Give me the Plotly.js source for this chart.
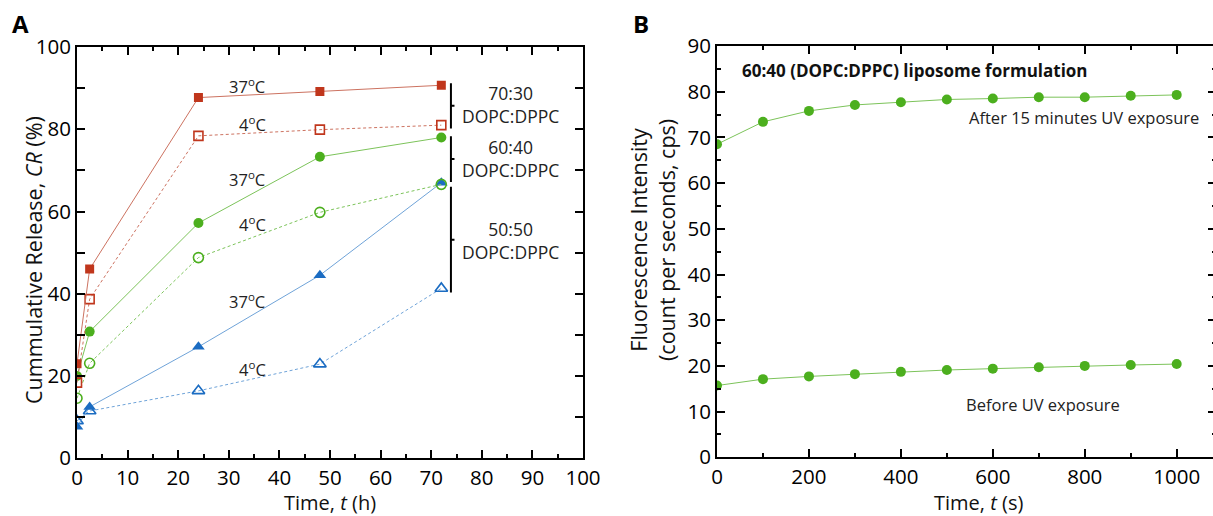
<!DOCTYPE html>
<html>
<head>
<meta charset="utf-8">
<script src="https://cdn.plot.ly/plotly-3.0.1.min.js"></script>
<style>
html,body{margin:0;padding:0;overflow:hidden;background:#fff;}
#chart{width:1226px;height:516px;}
</style>
</head>
<body>
<div id="chart"></div>
<script>
// ---------- Panel A data ----------
const timeA = [0, 2.5, 24, 48, 72];
const cr7030_37 = [23.0, 46.0, 87.7, 89.2, 90.7];
const cr7030_4  = [18.4, 38.7, 78.4, 79.9, 81.0];
const cr6040_37 = [20.0, 30.8, 57.2, 73.3, 78.0];
const cr6040_4  = [14.6, 23.1, 48.8, 59.8, 66.6];
const cr5050_37 = [7.7, 12.5, 27.1, 44.5, 67.0];
const cr5050_4  = [9.1, 11.5, 16.4, 22.9, 41.3];

// ---------- Panel B data ----------
const timeB = [0, 100, 200, 300, 400, 500, 600, 700, 800, 900, 1000];
const afterUV  = [68.5, 73.4, 75.8, 77.1, 77.7, 78.3, 78.5, 78.8, 78.8, 79.1, 79.3];
const beforeUV = [15.7, 17.1, 17.7, 18.2, 18.7, 19.1, 19.4, 19.7, 20.0, 20.2, 20.4];

// ---------- labels ----------
const ratioLabels = ['70:30<br>DOPC:DPPC', '60:40<br>DOPC:DPPC', '50:50<br>DOPC:DPPC'];
const tempLabels = ['37<sup>o</sup>C', '4<sup>o</sup>C'];

const RED = '#c0361c', RED_L = '#cc7260';
const GRN = '#4caf1e', GRN_L = '#7cc35a';
const BLU = '#1b6cc2', BLU_L = '#6fa3d8';
const FONT = 'Open Sans, Liberation Sans, sans-serif';

function tr(x, y, col, lcol, sym, dash, size, xa, ya) {
  return {
    x: x, y: y, type: 'scatter', mode: 'lines+markers',
    xaxis: xa || 'x', yaxis: ya || 'y',
    line: {color: lcol, width: 1, dash: dash},
    marker: {symbol: sym, size: size, color: col, line: {color: col, width: 1.6}},
    showlegend: false, hoverinfo: 'x+y'
  };
}

const DASH = '3px,2.5px';
const data = [
  tr(timeA, cr5050_4, BLU, BLU_L, 'triangle-up-open', DASH, 11),
  tr(timeA, cr5050_37, BLU, BLU_L, 'triangle-up', 'solid', 11),
  tr(timeA, cr6040_4, GRN, GRN_L, 'circle-open', DASH, 10),
  tr(timeA, cr6040_37, GRN, GRN_L, 'circle', 'solid', 10),
  tr(timeA, cr7030_4, RED, RED_L, 'square-open', DASH, 9),
  tr(timeA, cr7030_37, RED, RED_L, 'square', 'solid', 9),
  tr(timeB, beforeUV, GRN, GRN_L, 'circle', 'solid', 10, 'x2', 'y2'),
  tr(timeB, afterUV, GRN, GRN_L, 'circle', 'solid', 10, 'x2', 'y2')
];
// filled markers: no outline needed
[1, 3, 5, 6, 7].forEach(function (i) { data[i].marker.line.width = 0; });

const W = 1226;
const axBase = {
  showline: true, linecolor: '#000', linewidth: 2, mirror: 'ticks',
  ticks: 'inside', ticklen: 8, tickwidth: 2, tickcolor: '#000',
  showgrid: false, zeroline: false,
  tickfont: {family: FONT, size: 20.5, color: '#000'},
  fixedrange: true
};
const minorT = function (d, len) {
  return {dtick: d, ticks: 'inside', ticklen: len, tickwidth: 2, tickcolor: '#000', showgrid: false};
};

const layout = {
  width: W, height: 516,
  margin: {l: 0, r: 0, t: 0, b: 0},
  paper_bgcolor: '#fff', plot_bgcolor: '#fff',
  font: {family: FONT, color: '#111'},
  xaxis: Object.assign({}, axBase, {
    domain: [77 / W, 583 / W], range: [0, 100], dtick: 10, anchor: 'y',
    minor: minorT(5, 4)
  }),
  yaxis: Object.assign({}, axBase, {
    domain: [1 - 458.3 / 516, 1 - 47 / 516], range: [0, 100], dtick: 20, anchor: 'x',
    minor: minorT(10, 8)
  }),
  xaxis2: Object.assign({}, axBase, {
    domain: [717 / W, 1216 / W], range: [0, 1085.5], dtick: 200, anchor: 'y2',
    minor: minorT(100, 4)
  }),
  yaxis2: Object.assign({}, axBase, {
    domain: [1 - 457.3 / 516, 1 - 46 / 516], range: [0, 90], dtick: 10, anchor: 'x2',
    minor: minorT(5, 4)
  }),
  shapes: [],
  annotations: []
};

// axis titles (annotations for exact placement)
const titleFont = {family: FONT, size: 20, color: '#111'};
const yTitleFont = {family: FONT, size: 21.5, color: '#111'};
layout.annotations.push({text: 'Time, <i>t</i> (h)', xref: 'paper', yref: 'paper', borderpad: 0,
  x: 330 / W, y: 1 - 502.5 / 516, xanchor: 'center', yanchor: 'middle', showarrow: false, font: titleFont});
layout.annotations.push({text: 'Time, <i>t</i> (s)', xref: 'paper', yref: 'paper', borderpad: 0,
  x: 978 / W, y: 1 - 502.5 / 516, xanchor: 'center', yanchor: 'middle', showarrow: false, font: titleFont});
layout.annotations.push({text: 'Cummulative Release, <i>CR</i> (%)', xref: 'paper', yref: 'paper', borderpad: 0,
  x: 33 / W, y: 1 - 260 / 516, xanchor: 'center', yanchor: 'middle', textangle: -90, showarrow: false,
  font: yTitleFont});
layout.annotations.push({text: 'Fluorescence Intensity<br>(count per seconds, cps)', xref: 'paper', yref: 'paper',
  borderpad: 0, x: 653 / W, y: 1 - 240 / 516, xanchor: 'center', yanchor: 'middle', textangle: -90,
  showarrow: false, font: yTitleFont});

// Brackets for the three formulations in panel A (y extents at bracket x)
const brackets = [[80.2, 91.2], [67.2, 78.3], [40.3, 66.0]];
const bracketX = 73.9, tickX = 74.6;
brackets.forEach(function (b) {
  layout.shapes.push({type: 'line', xref: 'x', yref: 'y', x0: bracketX, x1: bracketX, y0: b[0], y1: b[1],
                      line: {color: '#000', width: 2}});
  const m = (b[0] + b[1]) / 2;
  layout.shapes.push({type: 'line', xref: 'x', yref: 'y', x0: bracketX, x1: tickX, y0: m, y1: m,
                      line: {color: '#000', width: 2}});
});

const ratioY = [86.0, 73.0, 53.0];
ratioLabels.forEach(function (t, i) {
  layout.annotations.push({text: t, xref: 'x', yref: 'y', x: 85.6, y: ratioY[i], showarrow: false,
                           font: {family: FONT, size: 17.5, color: '#222'}, align: 'center'});
});

// temperature labels
const tempPos = [[33.6, 90.5, 0], [34.6, 81.2, 1], [33.6, 67.9, 0], [34.6, 56.9, 1], [33.6, 38.2, 0], [34.6, 21.7, 1]];
tempPos.forEach(function (p) {
  layout.annotations.push({text: tempLabels[p[2]], xref: 'x', yref: 'y', x: p[0], y: p[1], showarrow: false,
                           font: {family: FONT, size: 16.5, color: '#222'}});
});

// Panel B text
layout.annotations.push({text: '<b>60:40 (DOPC:DPPC) liposome formulation</b>', xref: 'x2', yref: 'y2',
  x: 50, y: 84.7, xanchor: 'left', showarrow: false, font: {family: FONT, size: 17, color: '#111'}});
layout.annotations.push({text: 'After 15 minutes UV exposure', xref: 'x2', yref: 'y2',
  x: 798, y: 74.3, showarrow: false, font: {family: FONT, size: 16.5, color: '#222'}});
layout.annotations.push({text: 'Before UV exposure', xref: 'x2', yref: 'y2',
  x: 709, y: 11.5, showarrow: false, font: {family: FONT, size: 16.5, color: '#222'}});

// Panel letters
layout.annotations.push({text: '<b>A</b>', xref: 'paper', yref: 'paper', x: 20 / W, y: 1 - 24 / 516,
  xanchor: 'center', yanchor: 'middle', showarrow: false, font: {family: FONT, size: 24, color: '#000'}});
layout.annotations.push({text: '<b>B</b>', xref: 'paper', yref: 'paper', x: 641 / W, y: 1 - 24 / 516,
  xanchor: 'center', yanchor: 'middle', showarrow: false, font: {family: FONT, size: 24, color: '#000'}});

Plotly.newPlot('chart', data, layout, {displayModeBar: false, staticPlot: true});
</script>
</body>
</html>
